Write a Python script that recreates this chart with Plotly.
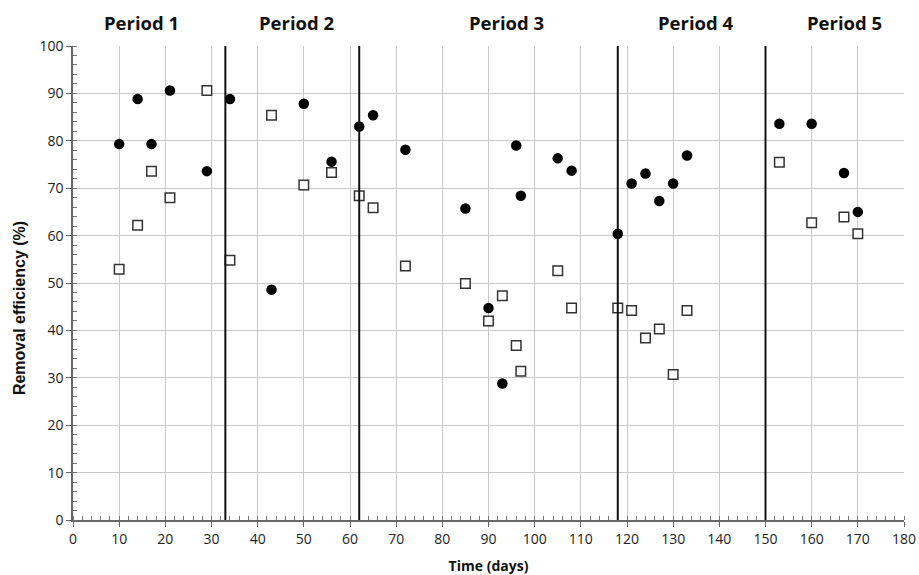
import plotly.graph_objects as go

days = [10, 14, 17, 21, 29, 34, 43, 50, 56, 62, 65, 72, 85, 90, 93, 96, 97, 105, 108,
        118, 121, 124, 127, 130, 133, 153, 160, 167, 170]
filled_vals = [79.3, 88.8, 79.3, 90.6, 73.6, 88.8, 48.6, 87.8, 75.6, 83.0, 85.4, 78.1,
               65.7, 44.7, 28.8, 79.0, 68.4, 76.3, 73.7, 60.4, 71.0, 73.1, 67.3, 71.0,
               76.9, 83.6, 83.6, 73.2, 65.0]
open_vals = [52.9, 62.2, 73.6, 68.0, 90.6, 54.8, 85.4, 70.7, 73.3, 68.4, 65.9, 53.6,
             49.9, 42.0, 47.3, 36.8, 31.4, 52.6, 44.7, 44.7, 44.2, 38.4, 40.3, 30.7,
             44.2, 75.5, 62.7, 63.9, 60.4]
period_bounds = [33, 62, 118, 150]
period_labels = ["Period 1", "Period 2", "Period 3", "Period 4", "Period 5"]
period_label_x = [14.8, 48.4, 93.8, 134.9, 167.2]

FONT = "Open Sans"

fig = go.Figure()
fig.add_trace(go.Scatter(
    x=days, y=open_vals, mode="markers",
    marker=dict(symbol="square", size=9.5, color="white",
                line=dict(color="#333333", width=1.5)),
    showlegend=False))
fig.add_trace(go.Scatter(
    x=days, y=filled_vals, mode="markers",
    marker=dict(symbol="circle", size=10.5, color="black", line=dict(width=0)),
    showlegend=False))

for b in period_bounds:
    fig.add_shape(type="line", x0=b, x1=b, y0=0, y1=100, xref="x", yref="y",
                  line=dict(color="#111111", width=2))

for lbl, lx in zip(period_labels, period_label_x):
    fig.add_annotation(x=lx, y=1, xref="x", yref="paper", yanchor="bottom", yshift=9,
                       text=f"<b>{lbl}</b>", showarrow=False,
                       font=dict(family=FONT, size=18.5, color="#111111"))

fig.add_annotation(x=0, xref="paper", xshift=-54, xanchor="center",
                   y=0.447, yref="paper", yanchor="middle",
                   text="<b>Removal efficiency (%)</b>", textangle=-90, showarrow=False,
                   font=dict(family="Liberation Sans", size=16, color="#111111"))

fig.update_xaxes(
    range=[0, 180], dtick=10, tick0=0, automargin=False,
    showgrid=True, gridcolor="#c8c8c8", gridwidth=1,
    showline=True, linecolor="#666666", linewidth=1.5,
    ticks="outside", ticklen=5, tickcolor="#666666",
    minor=dict(dtick=2, ticks="inside", ticklen=4, tickcolor="#777777", showgrid=False),
    tickfont=dict(family=FONT, size=14, color="#222222"),
    title=dict(text="<b>Time (days)</b>", font=dict(family=FONT, size=14, color="#111111"),
               standoff=16),
    zeroline=False, mirror=False)
fig.update_yaxes(
    range=[0, 100], dtick=10, tick0=0, automargin=False,
    showgrid=True, gridcolor="#c8c8c8", gridwidth=1,
    showline=True, linecolor="#666666", linewidth=1.5,
    ticks="outside", ticklen=5, tickcolor="#666666",
    minor=dict(dtick=2, ticks="inside", ticklen=4, tickcolor="#777777", showgrid=False),
    tickfont=dict(family=FONT, size=14, color="#222222"),
    zeroline=False)

fig.update_layout(
    width=919, height=575,
    margin=dict(l=73, r=15, t=46, b=55),
    plot_bgcolor="white", paper_bgcolor="white",
)
fig.write_html("out.html")
